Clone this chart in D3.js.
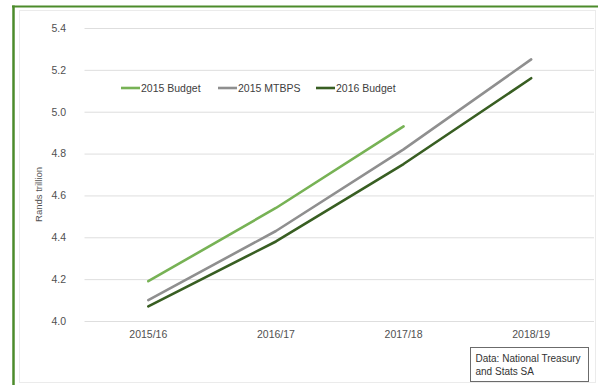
<!DOCTYPE html>
<html>
<head>
<meta charset="utf-8">
<script src="https://cdn.jsdelivr.net/npm/d3@7"></script>
<style>
  html, body { margin: 0; padding: 0; background: #ffffff; }
  svg { display: block; font-family: "Liberation Sans", Arial, sans-serif; }
</style>
</head>
<body>
<svg id="chart" width="598" height="385"></svg>
<script>
// Nominal GDP estimates, rands trillion, by fiscal year
const categories = ["2015/16", "2016/17", "2017/18", "2018/19"];
const budget2015 = [4.19, 4.54, 4.93];
const mtbps2015 = [4.10, 4.43, 4.82, 5.25];
const budget2016 = [4.07, 4.38, 4.75, 5.16];
const yTicks = [4.0, 4.2, 4.4, 4.6, 4.8, 5.0, 5.2, 5.4];
const seriesNames = ["2015 Budget", "2015 MTBPS", "2016 Budget"];
const sourceLines = ["Data: National Treasury", "and Stats SA"];

const colors = ["#77b255", "#8f8f8f", "#385e22"];
const frameGreen = "#4c8b2b";
const textGrey = "#505050";

const svg = d3.select("#chart");

// Chart area outline
svg.append("rect")
  .attr("x", 19.5).attr("y", 10.5)
  .attr("width", 576).attr("height", 372)
  .attr("fill", "none").attr("stroke", "#ebebeb").attr("stroke-width", 1);

// Green frame: top and left rules
svg.append("line")
  .attr("x1", 12).attr("x2", 598).attr("y1", 6.5).attr("y2", 6.5)
  .attr("stroke", frameGreen).attr("stroke-width", 2);
svg.append("line")
  .attr("x1", 13.5).attr("x2", 13.5).attr("y1", 5.5).attr("y2", 385)
  .attr("stroke", frameGreen).attr("stroke-width", 2.5);

const plot = { left: 84.5, right: 595, top: 28, bottom: 321 };

const x = d3.scaleBand().domain(categories).range([plot.left, plot.right]).padding(0);
const cx = c => x(c) + x.bandwidth() / 2;
const y = d3.scaleLinear().domain([4.0, 5.4]).range([plot.bottom, plot.top]);

// Gridlines
const grid = svg.append("g")
  .attr("transform", `translate(${plot.left},0)`)
  .call(d3.axisLeft(y).tickValues(yTicks).tickSize(-(plot.right - 1 - plot.left)).tickFormat(""));
grid.select(".domain").remove();
grid.selectAll(".tick line").attr("stroke", "#dedede").attr("stroke-width", 1);

// Y tick labels
const yAxis = svg.append("g")
  .attr("transform", `translate(66,0)`)
  .call(d3.axisLeft(y).tickValues(yTicks).tickSize(0).tickPadding(0).tickFormat(d3.format(".1f")));
yAxis.select(".domain").remove();
yAxis.selectAll("text")
  .attr("fill", textGrey).attr("font-size", 10.5)
  .attr("font-family", "Liberation Sans, Arial, sans-serif");

// X tick labels
const xAxis = svg.append("g")
  .attr("transform", `translate(0,${plot.bottom + 10})`)
  .call(d3.axisBottom(x).tickSize(0).tickPadding(0));
xAxis.select(".domain").remove();
xAxis.selectAll("text")
  .attr("fill", textGrey).attr("font-size", 10.5)
  .attr("font-family", "Liberation Sans, Arial, sans-serif");

// Y axis title
svg.append("text")
  .attr("transform", `translate(42,${(plot.top + plot.bottom) / 2 + 20}) rotate(-90)`)
  .attr("text-anchor", "middle")
  .attr("fill", textGrey).attr("font-size", 9.5)
  .text("Rands trillion");

// Series lines
const line = d3.line()
  .x((d, i) => cx(categories[i]))
  .y(d => y(d));

[budget2015, mtbps2015, budget2016].forEach((vals, k) => {
  svg.append("path")
    .datum(vals)
    .attr("d", line)
    .attr("fill", "none")
    .attr("stroke", colors[k])
    .attr("stroke-width", 2.6)
    .attr("stroke-linecap", "round")
    .attr("stroke-linejoin", "round");
});

// Legend
const legendX = [121, 218, 316];
const legend = svg.append("g").attr("transform", "translate(0,88)");
seriesNames.forEach((name, k) => {
  legend.append("line")
    .attr("x1", legendX[k]).attr("x2", legendX[k] + 19)
    .attr("y1", 0).attr("y2", 0)
    .attr("stroke", colors[k]).attr("stroke-width", 2.6);
  legend.append("text")
    .attr("x", legendX[k] + 20).attr("y", 3.7)
    .attr("fill", "#404040").attr("font-size", 10.5)
    .text(name);
});

// Source note box
const note = svg.append("g").attr("transform", "translate(470.5,347.5)");
note.append("rect")
  .attr("width", 118).attr("height", 34)
  .attr("fill", "#ffffff").attr("stroke", "#6b6b6b").attr("stroke-width", 1);
sourceLines.forEach((t, i) => {
  note.append("text")
    .attr("x", 5).attr("y", 14 + i * 13.5)
    .attr("fill", "#333333").attr("font-size", 10)
    .text(t);
});
</script>
</body>
</html>
